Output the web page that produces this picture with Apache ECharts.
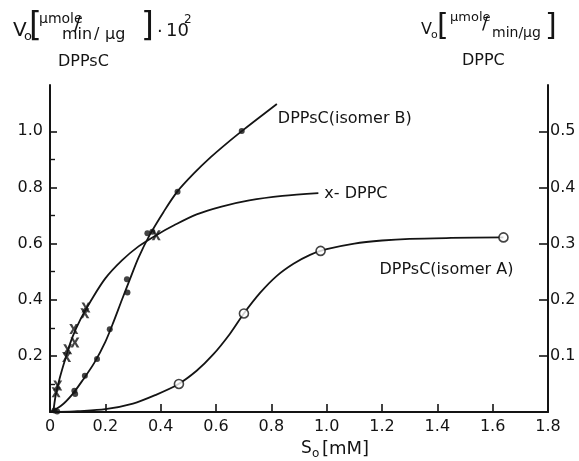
<!DOCTYPE html>
<html>
<head>
<meta charset="utf-8">
<script src="https://cdn.jsdelivr.net/npm/echarts@6/dist/echarts.min.js"></script>
<style>html,body{margin:0;padding:0;background:#fff}#c{width:579px;height:461px}</style>
</head>
<body>
<div id="c"></div>
<script>
// ---- data (S0 in mM; DPPsC in µmole/min/µg ·10², DPPC in µmole/min/µg) ----
const xTicks = [0, 0.2, 0.4, 0.6, 0.8, 1.0, 1.2, 1.4, 1.6, 1.8];
const leftTicks = [0.2, 0.4, 0.6, 0.8, 1.0];
const leftMinorTicks = [0.1, 0.3, 0.5, 0.7, 0.9];
const rightTicks = [0.1, 0.2, 0.3, 0.4, 0.5];

// DPPsC isomer B (filled dots) measured points
const isoBPoints = [[0.016,0.005],[0.026,0.002],[0.088,0.076],[0.091,0.064],[0.126,0.129],[0.170,0.189],
  [0.216,0.295],[0.278,0.473],[0.280,0.426],[0.352,0.637],[0.370,0.642],[0.461,0.785],[0.693,1.001]];
// DPPsC isomer B fitted curve
const isoBCurve = [[0.0,0.0],[0.04,0.022],[0.08,0.062],[0.12,0.116],[0.16,0.175],[0.2,0.25],[0.23,0.322],
  [0.26,0.4],[0.29,0.476],[0.32,0.55],[0.36,0.63],[0.41,0.712],[0.46,0.785],[0.52,0.85],[0.58,0.907],
  [0.64,0.958],[0.70,1.006],[0.76,1.052],[0.82,1.097]];

// DPPsC isomer A (open circles) measured points
const isoAPoints = [[0.466,0.100],[0.701,0.351],[0.978,0.574],[1.639,0.622]];
// DPPsC isomer A fitted curve
const isoACurve = [[0.03,0.0],[0.1,0.003],[0.2,0.01],[0.3,0.03],[0.38,0.06],[0.46,0.097],[0.53,0.147],
  [0.59,0.205],[0.65,0.278],[0.70,0.35],[0.76,0.425],[0.82,0.485],[0.88,0.528],[0.94,0.56],[1.0,0.58],
  [1.1,0.6],[1.2,0.611],[1.3,0.617],[1.45,0.62],[1.639,0.622]];

// DPPC (crosses) measured points, right axis units
const dppcPoints = [[0.022,0.035],[0.028,0.047],[0.060,0.098],[0.064,0.112],[0.086,0.148],[0.090,0.124],
  [0.126,0.176],[0.130,0.186],[0.384,0.315]];
// DPPC fitted curve, right axis units
const dppcCurve = [[0.012,0.0],[0.02,0.028],[0.035,0.06],[0.055,0.094],[0.08,0.132],[0.11,0.165],
  [0.15,0.2],[0.2,0.238],[0.26,0.27],[0.32,0.295],[0.384,0.315],[0.45,0.333],[0.53,0.352],[0.62,0.366],
  [0.72,0.377],[0.84,0.385],[0.97,0.39]];

const labelB = 'DPPsC(isomer B)';
const labelA = 'DPPsC(isomer A)';
const labelDPPC = 'x- DPPC';

const FONT = '"DejaVu Sans"';
const INK = '#141414';
const xPath = 'path://M0,0L3,0L5,3.3L7,0L10,0L6.6,5L10,10L7,10L5,6.7L3,10L0,10L3.4,5Z';

const chart = echarts.init(document.getElementById('c'), null, {renderer: 'canvas'});

function t(text, x, y, size) {
  return {type: 'text', x: x, y: y, silent: true,
    style: {text: text, font: size + 'px ' + FONT, fill: INK, verticalAlign: 'middle', align: 'left'}};
}

const option = {
  backgroundColor: '#fff',
  animation: false,
  grid: {left: 50, right: 31, top: 85, bottom: 49, containLabel: false},
  xAxis: {
    type: 'value', min: 0, max: 1.8, interval: 0.2,
    axisLine: {show: true, onZero: false, lineStyle: {color: INK, width: 2}},
    axisTick: {show: true, inside: true, length: 8, lineStyle: {color: INK, width: 1.6}, customValues: xTicks},
    axisLabel: {color: INK, fontFamily: FONT, fontSize: 16, margin: 7, customValues: xTicks,
      formatter: v => v === 0 ? '0' : v.toFixed(1)},
    splitLine: {show: false}
  },
  yAxis: [
    {
      type: 'value', min: 0, max: 1.165, position: 'left',
      axisLine: {show: true, onZero: false, lineStyle: {color: INK, width: 2}},
      axisTick: {show: true, inside: true, length: 7, lineStyle: {color: INK, width: 1.6}, customValues: leftTicks},
      axisLabel: {color: INK, fontFamily: FONT, fontSize: 16, margin: 7, customValues: leftTicks,
        formatter: v => v.toFixed(1)},
      splitLine: {show: false}
    },
    {
      type: 'value', min: 0, max: 0.5825, position: 'right',
      axisLine: {show: true, onZero: false, lineStyle: {color: INK, width: 2}},
      axisTick: {show: true, inside: true, length: 9, lineStyle: {color: INK, width: 1.6}, customValues: rightTicks},
      axisLabel: {color: INK, fontFamily: FONT, fontSize: 16, margin: 2, customValues: rightTicks,
        formatter: v => v.toFixed(1)},
      splitLine: {show: false}
    },
    {
      type: 'value', min: 0, max: 1.165, position: 'left',
      axisLine: {show: false},
      axisTick: {show: true, inside: true, length: 5, lineStyle: {color: INK, width: 1.4}, customValues: leftMinorTicks},
      axisLabel: {show: false},
      splitLine: {show: false}
    }
  ],
  series: [
    {
      name: 'isoBCurve', type: 'line', yAxisIndex: 0, data: isoBCurve, smooth: 0.3,
      showSymbol: false, symbol: 'none', lineStyle: {color: INK, width: 1.8},
      endLabel: {show: true, formatter: labelB, color: INK, fontFamily: FONT, fontSize: 16, offset: [-7, 15]}
    },
    {
      name: 'isoBPts', type: 'scatter', yAxisIndex: 0, data: isoBPoints, symbol: 'circle', symbolSize: 6,
      itemStyle: {color: INK}
    },
    {
      name: 'isoACurve', type: 'line', yAxisIndex: 0, data: isoACurve, smooth: 0.3,
      showSymbol: false, symbol: 'none', lineStyle: {color: INK, width: 1.8},
      endLabel: {show: true, formatter: labelA, color: INK, fontFamily: FONT, fontSize: 16, align: 'right',
        offset: [2, 32]}
    },
    {
      name: 'isoAPts', type: 'scatter', yAxisIndex: 0, data: isoAPoints, symbol: 'circle', symbolSize: 9,
      itemStyle: {color: '#fff', borderColor: INK, borderWidth: 1.6}, z: 5
    },
    {
      name: 'dppcCurve', type: 'line', yAxisIndex: 1, data: dppcCurve, smooth: 0.3,
      showSymbol: false, symbol: 'none', lineStyle: {color: INK, width: 1.8},
      endLabel: {show: true, formatter: labelDPPC, color: INK, fontFamily: FONT, fontSize: 16, offset: [-2, 1]}
    },
    {
      name: 'dppcPts', type: 'scatter', yAxisIndex: 1, data: dppcPoints, symbol: xPath, symbolSize: [9, 10],
      itemStyle: {color: INK}, z: 5
    }
  ],
  graphic: [
    // left axis title
    t('V', 13, 31, 20), t('o', 24, 37, 13),
    t('[', 29, 27, 33), t('µmole', 39, 19, 14),
    t('/', 74, 25, 20), t('min', 62, 35, 16), t('/', 94, 35, 16), t('µg', 105, 35, 16),
    t(']', 141, 27, 33), t('·', 157, 32, 18), t('10', 166, 31, 18), t('2', 184, 20, 12),
    t('DPPsC', 58, 62, 16),
    // right axis title
    t('V', 421, 30, 16), t('o', 431, 35, 11),
    t('[', 437, 27, 30), t('µmole', 450, 18, 13),
    t('/', 482, 24, 18), t('min/µg', 492, 33, 14),
    t(']', 545, 27, 30),
    t('DPPC', 462, 61, 16),
    // x axis title
    t('S', 301, 449, 17), t('o', 312, 454, 12), t('[mM]', 322, 449, 18)
  ]
};
chart.setOption(option);
</script>
</body>
</html>
